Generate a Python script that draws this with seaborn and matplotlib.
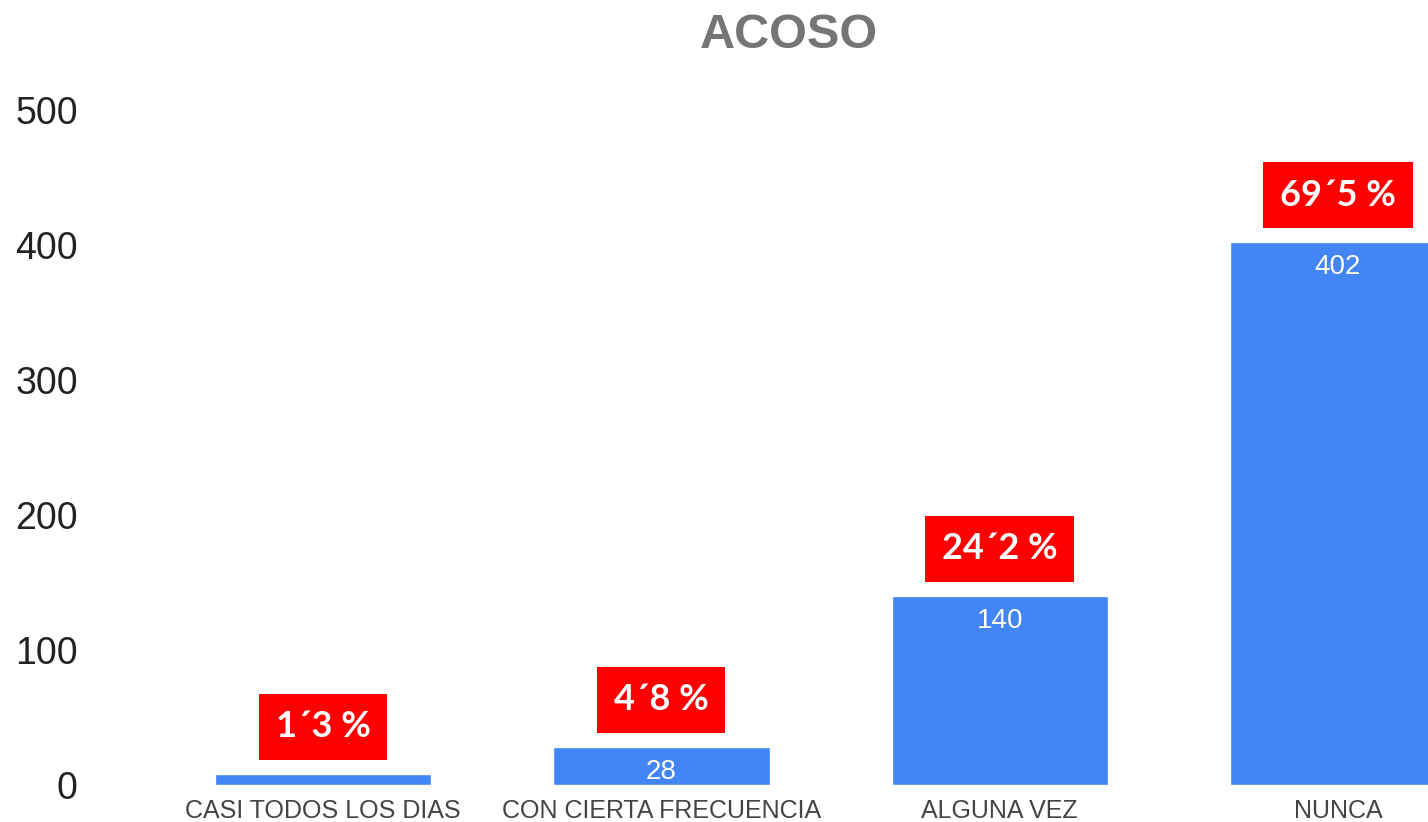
import seaborn as sns
import matplotlib.pyplot as plt
import pandas as pd

categories = ["CASI TODOS LOS DIAS", "CON CIERTA FRECUENCIA", "ALGUNA VEZ", "NUNCA"]
counts = [8, 28, 140, 402]
value_labels = ["", "28", "140", "402"]
pct_labels = ["1´3 %", "4´8 %", "24´2 %", "69´5 %"]
y_ticks = [0, 100, 200, 300, 400, 500]

df = pd.DataFrame({"respuesta": categories, "n": counts})

sns.set_style("white")
plt.rcParams['font.family'] = ['Liberation Sans', 'DejaVu Sans']

fig = plt.figure(figsize=(14.28, 8.22), dpi=100)
ax = fig.add_axes([0.07, 0.045, 0.93, 0.821])

sns.barplot(data=df, x="respuesta", y="n", color="#4285F4", saturation=1,
            width=0.64, ax=ax)

ax.set_xlim(-0.66, 3.266)
ax.set_ylim(0, 500)
ax.set_yticks(y_ticks)
ax.tick_params(axis='y', labelsize=27, labelcolor='#222222', length=0, pad=16)
ax.tick_params(axis='x', labelsize=18, labelcolor='#444444', length=0, pad=10)
ax.set_xlabel("")
ax.set_ylabel("")
sns.despine(ax=ax, left=True, bottom=True)

for i, (v, lab, pct) in enumerate(zip(counts, value_labels, pct_labels)):
    if lab:
        ax.annotate(lab, (i, v), xytext=(0, -18), textcoords='offset points',
                    ha='center', va='center', fontsize=20, color='white')
    ax.annotate(pct, (i, v), xytext=(0, 34), textcoords='offset points',
                ha='center', va='center', fontsize=26, fontweight='bold',
                color='white', family=['Lato', 'DejaVu Sans'],
                bbox=dict(boxstyle='square,pad=0.46', fc='#FF0000', ec='none'))

fig.text(789 / 1428, 1 - 35 / 822, "ACOSO", ha='center', va='center',
         fontsize=35, fontweight='bold', color='#757575')

fig.savefig("out.png", dpi=100)
